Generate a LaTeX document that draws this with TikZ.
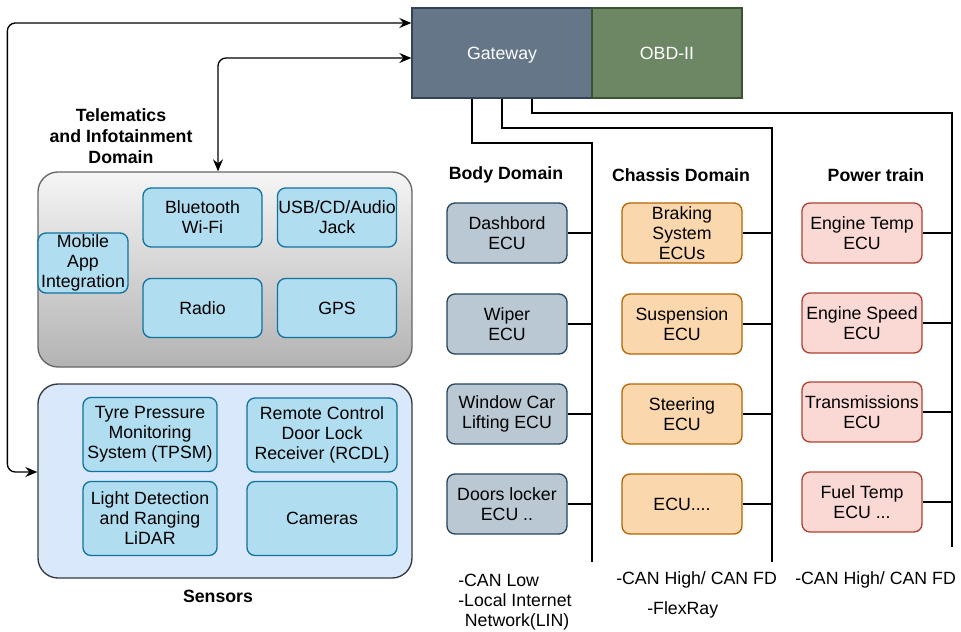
\documentclass[tikz,border=0pt]{standalone}
\usepackage{fontspec}
\setmainfont{Liberation Sans}
\usepackage{xcolor}
\usepackage{tikz}
\usetikzlibrary{arrows.meta,positioning}
\definecolor{gwfill}{HTML}{647687}
\definecolor{gwdraw}{HTML}{314354}
\definecolor{obdfill}{HTML}{6D8764}
\definecolor{obddraw}{HTML}{3A5431}
\definecolor{tealfill}{HTML}{B1DDF0}
\definecolor{tealdraw}{HTML}{10739E}
\definecolor{sensfill}{HTML}{DAE8FC}
\definecolor{sensdraw}{HTML}{36393D}
\definecolor{bodyfill}{HTML}{BAC8D3}
\definecolor{bodydraw}{HTML}{23445D}
\definecolor{chasfill}{HTML}{FAD7AC}
\definecolor{chasdraw}{HTML}{B46504}
\definecolor{powfill}{HTML}{FAD9D5}
\definecolor{powdraw}{HTML}{AE4132}
\definecolor{teletop}{HTML}{F5F5F5}
\definecolor{telebot}{HTML}{B3B3B3}
\definecolor{teledraw}{HTML}{666666}

\begin{document}
\begin{tikzpicture}[x=0.75pt, y=-0.75pt,
  ecu/.style={rounded corners=6pt, line width=1pt, minimum width=90pt,
    minimum height=45pt, inner sep=0pt, align=center,
    font=\fontsize{13.3}{15}\selectfont},
  bodyecu/.style={ecu, draw=bodydraw, fill=bodyfill},
  chasecu/.style={ecu, draw=chasdraw, fill=chasfill},
  powecu/.style={ecu, draw=powdraw, fill=powfill},
  tele/.style={ecu, draw=tealdraw, fill=tealfill, minimum width=89.25pt,
    minimum height=44.25pt},
  sens/.style={tele, minimum width=100.5pt, minimum height=55.5pt},
  top/.style={line width=1pt, minimum height=67.5pt, text=white, text depth=0pt,
    font=\fontsize{13.3}{15}\selectfont},
  group/.style={rounded corners=15pt, line width=1pt, minimum width=280.5pt},
  title/.style={align=center, inner sep=0pt,
    font=\fontsize{13.3}{15.75}\selectfont\bfseries},
  note/.style={align=left, inner sep=0pt, font=\fontsize{13.3}{15}\selectfont},
  bus/.style={line width=1.1pt},
  barr/.style={{Stealth[length=9pt,width=7.5pt,inset=3pt]}-{Stealth[length=9pt,width=7.5pt,inset=3pt]},
    line width=1pt}
]
  \useasboundingbox (0,0) rectangle (961,632);

  % gateway and obd port
  \node[top, draw=gwdraw, fill=gwfill, minimum width=135pt] (gateway) at (502,53) {Gateway};
  \node[top, draw=obddraw, fill=obdfill, minimum width=112.5pt] (obd) at (667,53) {OBD-II};

  % telematics and infotainment
  \node[title] (teletitle) at (121,136) {Telematics\\and Infotainment\\Domain};
  \node[group, draw=teledraw, top color=teletop, bottom color=telebot,
    minimum height=146.25pt] (telebox) at (225,269.5) {};
  \node[tele] (bt) at (202.5,217.5) {Bluetooth\\Wi-Fi};
  \node[tele] (usb) at (337,217.5) {USB/CD/Audio\\Jack};
  \node[tele, minimum width=67.5pt, minimum height=45pt] (mobile) at (83,263) {Mobile\\App\\Integration};
  \node[tele] (radio) at (202.5,308) {Radio};
  \node[tele] (gps) at (337,308) {GPS};

  % sensors
  \node[group, draw=sensdraw, fill=sensfill, minimum height=145.5pt] (sensors) at (225,481) {};
  \node[sens] (tpsm) at (150,434.5) {Tyre Pressure\\Monitoring\\System (TPSM)};
  \node[sens, minimum width=112.5pt] (rcdl) at (322,435) {Remote Control\\Door Lock\\Receiver (RCDL)};
  \node[sens] (lidar) at (150,518.5) {Light Detection\\and Ranging\\LiDAR};
  \node[sens, minimum width=112.5pt] (cameras) at (322,518.5) {Cameras};
  \node[title] (senstitle) at (218,596) {Sensors};

  % domains
  \node[title] (bodytitle) at (506,175) {Body Domain};
  \node[title] (chastitle) at (681,175) {Chassis Domain};
  \node[title] (powtitle) at (876,175) {Power train};

  \node[bodyecu] (dash) at (507,233) {Dashbord\\ECU};
  \node[bodyecu] (wiper) at (507,324) {Wiper\\ECU};
  \node[bodyecu] (window) at (507,414) {Window Car\\Lifting ECU};
  \node[bodyecu] (doors) at (507,504) {Doors locker\\ECU ..};

  \node[chasecu] (brake) at (682,233) {Braking\\System\\ECUs};
  \node[chasecu] (susp) at (682,324) {Suspension\\ECU};
  \node[chasecu] (steer) at (682,414) {Steering\\ECU};
  \node[chasecu] (chasmore) at (682,504) {ECU....};

  \node[powecu] (etemp) at (862,233) {Engine Temp\\ECU};
  \node[powecu] (espeed) at (862,323) {Engine Speed\\ECU};
  \node[powecu] (trans) at (862,412) {Transmissions\\ECU};
  \node[powecu] (fuel) at (862,502) {Fuel Temp\\ECU ...};

  % buses
  \coordinate (bodytop) at (592,143);
  \coordinate (bodyend) at (592,562);
  \coordinate (chastop) at (772,128);
  \coordinate (chasend) at (772,562);
  \coordinate (powtop) at (952,113);
  \coordinate (powend) at (952,547);

  \draw[bus] ([xshift=-22.5pt]gateway.south) |- (bodytop) -- (bodyend);
  \draw[bus] (gateway.south) |- (chastop) -- (chasend);
  \draw[bus] ([xshift=22.5pt]gateway.south) |- (powtop) -- (powend);

  \foreach \e in {dash,wiper,window,doors}
    \draw[bus] (\e.east) -- (\e.east -| bodyend);
  \foreach \e in {brake,susp,steer,chasmore}
    \draw[bus] (\e.east) -- (\e.east -| chasend);
  \foreach \e in {etemp,espeed,trans,fuel}
    \draw[bus] (\e.east) -- (\e.east -| powend);

  % bus types
  \node[note, anchor=north west] (bodynote) at (458,573.5)
    {-CAN Low\\-Local Internet\\\hspace{5pt}Network(LIN)};
  \node[note, anchor=west] (chasnote) at (616,580) {-CAN High/ CAN FD};
  \node[note, anchor=west] (flexnote) at (647,610) {-FlexRay};
  \node[note, anchor=west] (pownote) at (795,580) {-CAN High/ CAN FD};

  % links to gateway
  \draw[barr, rounded corners=6pt] ([yshift=6.75pt]sensors.west) -- ++(-30,0)
    |- ([yshift=22.5pt]gateway.west);
  \draw[barr, rounded corners=6pt] ([yshift=-3.75pt]gateway.west)
    -| ([xshift=-5.25pt]telebox.north);
\end{tikzpicture}
\end{document}
